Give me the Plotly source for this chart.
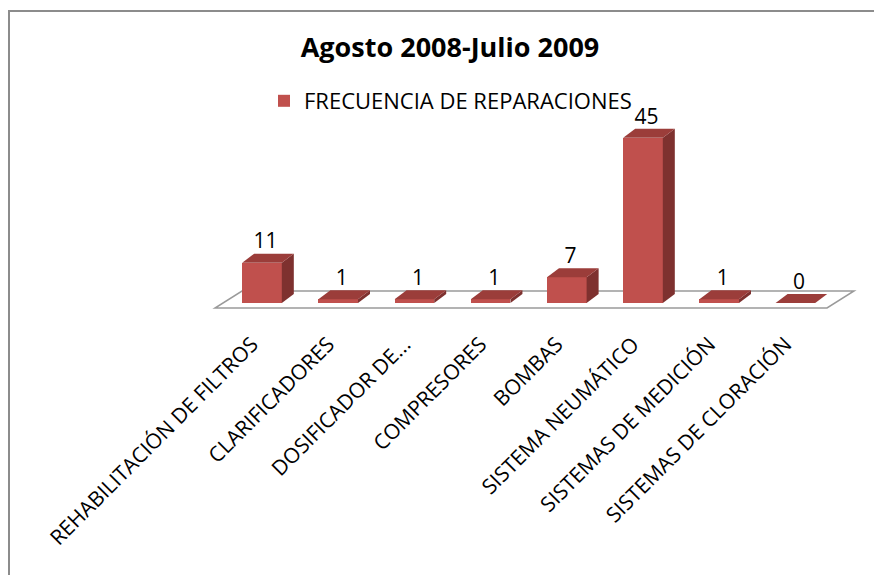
import plotly.graph_objects as go

# ------------------------------------------------------------
# Data
# ------------------------------------------------------------
categories = [
    'REHABILITACIÓN DE FILTROS',
    'CLARIFICADORES',
    'DOSIFICADOR DE...',
    'COMPRESORES',
    'BOMBAS',
    'SISTEMA NEUMÁTICO',
    'SISTEMAS DE MEDICIÓN',
    'SISTEMAS DE CLORACIÓN',
]
frecuencia = [11, 1, 1, 1, 7, 45, 1, 0]
series_name = 'FRECUENCIA DE REPARACIONES'
title_text = 'Agosto 2008-Julio 2009'

# ------------------------------------------------------------
# Styling / geometry of the fake 3D look
# (pixel values are measured on the screenshot; the page body
#  adds an 8px margin, so OFF is taken away from them)
# ------------------------------------------------------------
W, H = 882, 575
OFF = 8
L, R, T, B = 200, 22, 92, 256           # plot area margins (px, figure coords)
px_per_cat = 76.2                       # px per category step
px_per_unit = 3.67                      # px per value unit
x_first = 262 - OFF                     # pixel centre of first category
y_zero = 303 - OFF                      # pixel of value 0

pw, ph = W - L - R, H - T - B
xr = [(L - x_first) / px_per_cat, (W - R - x_first) / px_per_cat]
yr = [-(H - B - y_zero) / px_per_unit, (y_zero - T) / px_per_unit]

bar_w = 0.52
dx, dy = 12 / px_per_cat, 9 / px_per_unit        # bar depth
fdx, fdy = 27 / px_per_cat, 17 / px_per_unit     # floor depth
floor_x0, floor_x1 = -0.617, 7.415
floor_y0 = -5 / px_per_unit

c_front = '#C0504D'
c_top = '#9B3D3A'
c_side = '#7E312F'
font = 'Open Sans, DejaVu Sans, sans-serif'


def px_to_paper_x(px):
    return (px - OFF - L) / pw


def px_to_paper_y(py):
    return ((H - B) - (py - OFF)) / ph


idx = list(range(len(categories)))

fig = go.Figure()

fig.add_trace(go.Bar(
    x=idx, y=frecuencia, width=bar_w,
    name=series_name,
    marker=dict(color=c_front, line=dict(width=0)),
    hovertemplate='%{customdata}: %{y}<extra></extra>',
    customdata=categories,
))

fig.add_trace(go.Scatter(
    x=[i + dx * 0.3 for i in idx],
    y=[v + dy for v in frecuencia],
    mode='text',
    text=[str(v) for v in frecuencia],
    textposition='top center',
    textfont=dict(family=font, size=21, color='black'),
    showlegend=False,
    hoverinfo='skip',
))

shapes = []

# floor
shapes.append(dict(
    type='path', xref='x', yref='y', layer='below',
    path=(f'M{floor_x0},{floor_y0} L{floor_x1},{floor_y0} '
          f'L{floor_x1 + fdx},{floor_y0 + fdy} L{floor_x0 + fdx},{floor_y0 + fdy} Z'),
    fillcolor='white', line=dict(color='#9a9a9a', width=1.5),
))

# side and top faces of each bar
for i, v in zip(idx, frecuencia):
    xl, xh = i - bar_w / 2, i + bar_w / 2
    shapes.append(dict(
        type='path', xref='x', yref='y', layer='above',
        path=f'M{xh},0 L{xh + dx},{dy} L{xh + dx},{v + dy} L{xh},{v} Z',
        fillcolor=c_side, line=dict(width=0),
    ))
    shapes.append(dict(
        type='path', xref='x', yref='y', layer='above',
        path=f'M{xl},{v} L{xl + dx},{v + dy} L{xh + dx},{v + dy} L{xh},{v} Z',
        fillcolor=c_top, line=dict(width=0),
    ))

# outer frame (runs off the right/bottom edge like the reference)
shapes.append(dict(
    type='rect', xref='paper', yref='paper', layer='above',
    x0=px_to_paper_x(9), x1=px_to_paper_x(W + 30),
    y0=px_to_paper_y(H + 30), y1=px_to_paper_y(11),
    line=dict(color='#8c8c8c', width=2), fillcolor='rgba(0,0,0,0)',
))

fig.update_layout(
    width=W, height=H,
    margin=dict(l=L, r=R, t=T, b=B, autoexpand=False),
    paper_bgcolor='white', plot_bgcolor='white',
    font=dict(family=font, size=20, color='black'),
    title=dict(
        text=f'<b>{title_text}</b>',
        x=(450 - OFF) / W, xref='container', xanchor='center',
        y=1 - (48 - OFF) / H, yref='container', yanchor='middle',
        font=dict(family=font, size=27, color='black'),
    ),
    showlegend=True,
    legend=dict(
        orientation='h',
        x=px_to_paper_x(264), xanchor='left',
        y=px_to_paper_y(101), yanchor='middle',
        font=dict(family=font, size=22, color='black'),
        bgcolor='rgba(0,0,0,0)',
    ),
    xaxis=dict(
        range=xr, tickmode='array', tickvals=idx, ticktext=categories,
        tickangle=-45, showgrid=False, zeroline=False, showline=False,
        ticks='', automargin=False, ticklabelshift=-10,
        tickfont=dict(family=font, size=21, color='black'),
    ),
    yaxis=dict(
        range=yr, showgrid=False, zeroline=False, showline=False,
        showticklabels=False, ticks='', automargin=False,
    ),
    shapes=shapes,
    bargap=0,
)

fig.write_html('out.html')
